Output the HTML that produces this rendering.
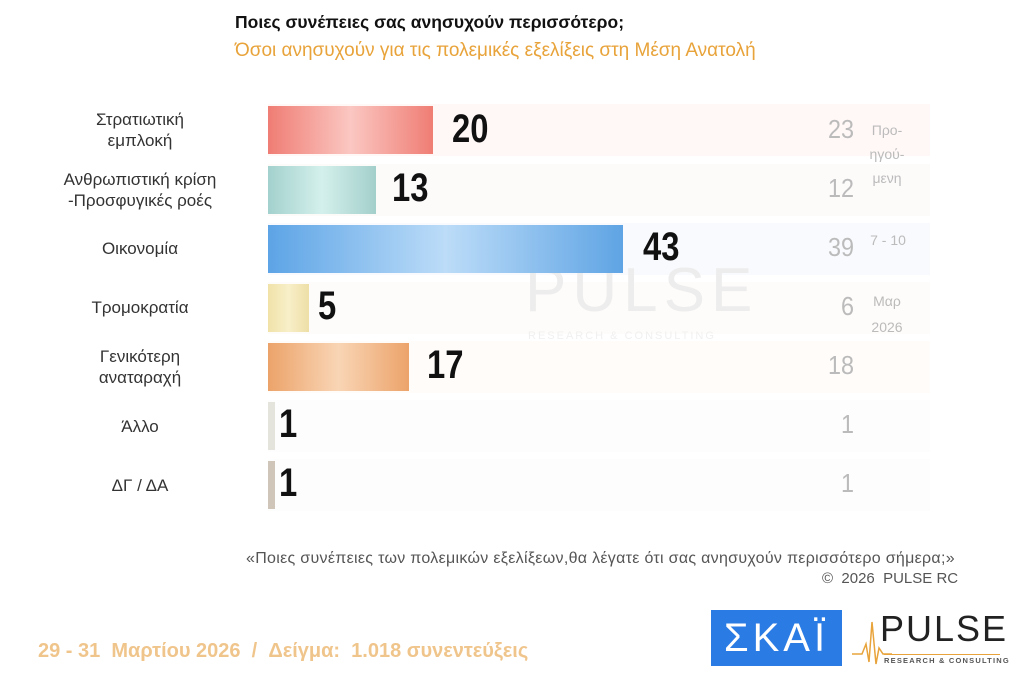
<!DOCTYPE html>
<html><head><meta charset="utf-8"><style>
body{margin:0;width:1024px;height:686px;background:#fff;position:relative;overflow:hidden;font-family:"Liberation Sans","DejaVu Sans",sans-serif}
.a{position:absolute}
.lbl{position:absolute;left:30px;width:220px;text-align:center;font-size:17px;color:#333;line-height:21px}
.bar{position:absolute;left:268px;height:48px}
.val{position:absolute;font-size:40px;font-weight:bold;color:#111;transform:scaleX(0.82);transform-origin:left}
.prev{position:absolute;left:800px;width:54px;text-align:right;font-size:26px;color:#bbb;transform:scaleX(0.9);transform-origin:right}
.band{position:absolute;left:268px;width:662px;height:52px}
</style></head><body>
<div class="a" style="left:235px;top:12px;font-size:17.5px;font-weight:bold;color:#111">Ποιες συνέπειες σας ανησυχούν περισσότερο;</div>
<div class="a" style="left:235px;top:40px;font-size:19px;color:#e8a33a">Όσοι ανησυχούν για τις πολεμικές εξελίξεις στη Μέση Ανατολή</div>

<div class="band" style="top:104px;background:#fff8f7"></div>
<div class="band" style="top:164px;background:#fdfafa"></div>
<div class="band" style="top:223px;background:#f9fafd"></div>
<div class="band" style="top:282px;background:#fefcfa"></div>
<div class="band" style="top:341px;background:#fffcfa"></div>
<div class="band" style="top:400px;background:#fefdfd"></div>
<div class="band" style="top:459px;background:#fefdfd"></div>

<div class="a" style="left:525px;top:255px;font-size:62px;color:#ededed;letter-spacing:6px">PULSE</div>
<div class="a" style="left:528px;top:330px;font-size:11px;color:#f0f0f0;letter-spacing:2px">RESEARCH &amp; CONSULTING</div>

<div class="lbl" style="top:109px">Στρατιωτική<br>εμπλοκή</div>
<div class="lbl" style="top:169px">Ανθρωπιστική κρίση<br>-Προσφυγικές ροές</div>
<div class="lbl" style="top:238px">Οικονομία</div>
<div class="lbl" style="top:297px">Τρομοκρατία</div>
<div class="lbl" style="top:346px">Γενικότερη<br>αναταραχή</div>
<div class="lbl" style="top:416px">Άλλο</div>
<div class="lbl" style="top:475px">ΔΓ / ΔΑ</div>

<div class="bar" style="top:106px;width:165px;background:linear-gradient(90deg,#ef7d74,#fbc7c2 50%,#ef7d74)"></div>
<div class="bar" style="top:166px;width:108px;background:linear-gradient(90deg,#a3d1cd,#d4f0ec 50%,#a3cfcb)"></div>
<div class="bar" style="top:225px;width:355px;background:linear-gradient(90deg,#5da4e6,#bcdcf8 50%,#5fa4e4)"></div>
<div class="bar" style="top:284px;width:41px;background:linear-gradient(90deg,#f0e2a8,#f8efc9 50%,#eedfa6)"></div>
<div class="bar" style="top:343px;width:141px;background:linear-gradient(90deg,#eca36a,#f9d5b5 50%,#eca36a)"></div>
<div class="bar" style="top:402px;width:7px;background:#e4e4dc"></div>
<div class="bar" style="top:461px;width:7px;background:#cfc5b8"></div>

<div class="val" style="left:452px;top:107px">20</div>
<div class="val" style="left:392px;top:166px">13</div>
<div class="val" style="left:643px;top:225px">43</div>
<div class="val" style="left:318px;top:284px">5</div>
<div class="val" style="left:427px;top:343px">17</div>
<div class="val" style="left:279px;top:402px">1</div>
<div class="val" style="left:279px;top:461px">1</div>

<div class="prev" style="top:114px">23</div>
<div class="prev" style="top:173px">12</div>
<div class="prev" style="top:232px">39</div>
<div class="prev" style="top:291px">6</div>
<div class="prev" style="top:350px">18</div>
<div class="prev" style="top:409px">1</div>
<div class="prev" style="top:468px">1</div>

<div class="a" style="left:862px;top:118px;font-size:14px;color:#bbb;line-height:24px;width:50px;text-align:center">Προ-<br>ηγού-<br>μενη</div>
<div class="a" style="left:862px;top:232px;font-size:14px;color:#bbb;width:52px;text-align:center">7 - 10</div>
<div class="a" style="left:862px;top:288px;font-size:14px;color:#bbb;line-height:26px;width:50px;text-align:center">Μαρ<br>2026</div>

<div class="a" style="left:246px;top:550px;font-size:16px;color:#555;white-space:nowrap;letter-spacing:0.3px">«Ποιες συνέπειες των πολεμικών εξελίξεων,θα λέγατε ότι σας ανησυχούν περισσότερο σήμερα;»</div>
<div class="a" style="left:822px;top:570px;font-size:15px;color:#555">©&nbsp; 2026 &nbsp;PULSE RC</div>

<div class="a" style="left:38px;top:640px;font-size:20px;font-weight:bold;color:#f0c58c;white-space:nowrap">29 - 31 &nbsp;Μαρτίου 2026 &nbsp;/ &nbsp;Δείγμα: &nbsp;1.018 συνεντεύξεις</div>

<div class="a" style="left:711px;top:610px;width:131px;height:56px;background:#2b7be4;color:#fff;font-size:40px;line-height:56px;text-align:center;letter-spacing:4px">ΣΚΑΪ</div>
<svg class="a" style="left:852px;top:618px" width="40" height="50"><polyline points="0,36 10,36 14,26 17,44 20,4 24,46 27,30 31,36 40,36" fill="none" stroke="#e8a33a" stroke-width="1.5"/></svg>
<div class="a" style="left:880px;top:608px;font-size:36px;color:#222;letter-spacing:2px">PULSE</div>
<div class="a" style="left:884px;top:654px;width:116px;height:1px;background:#e8a33a"></div>
<div class="a" style="left:884px;top:656px;font-size:7.5px;font-weight:bold;color:#555;letter-spacing:1.2px">RESEARCH &amp; CONSULTING</div>
</body></html>
